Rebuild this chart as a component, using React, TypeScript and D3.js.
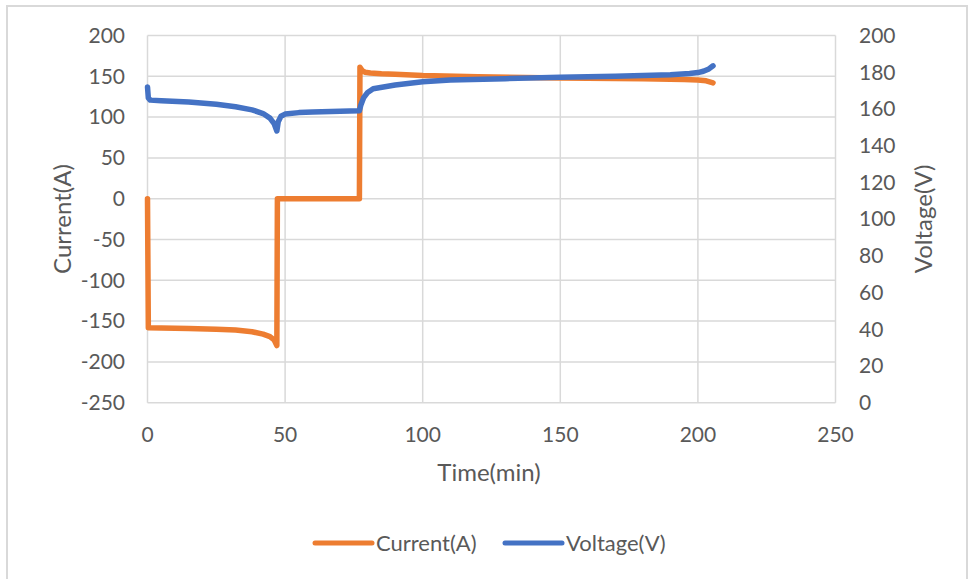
import React from "react";
import * as d3 from "d3";

const W = 973;
const H = 579;

const xTicks = [0, 50, 100, 150, 200, 250];
const leftTicks = [-250, -200, -150, -100, -50, 0, 50, 100, 150, 200];
const rightTicks = [0, 20, 40, 60, 80, 100, 120, 140, 160, 180, 200];

const currentTime = [0, 0.3, 5, 15, 25, 32, 38, 42, 44.5, 46, 47, 47.2, 50, 60, 70, 77, 77.2, 78, 79, 81, 85, 90, 100, 120, 150, 180, 195, 200, 203, 205.5];
const currentValues = [0, -158, -158.5, -159, -160, -161, -163, -166, -169, -173, -180, 0, 0, 0, 0, 0, 161, 157, 155, 154, 153, 152.5, 151, 149.5, 148, 147, 146, 145.5, 144.5, 142];

const voltageTime = [0, 0.3, 1, 5, 15, 25, 32, 38, 42, 44.5, 46, 47, 47.5, 48.5, 50, 55, 60, 70, 77, 77.5, 78.5, 80, 82, 90, 100, 110, 130, 150, 170, 190, 197, 200, 202, 204, 205.5];
const voltageValues = [172, 166, 164.8, 164.5, 163.8, 162.5, 161.2, 159.5, 157.5, 155, 152, 148, 153, 156, 157.2, 158, 158.3, 158.7, 159, 162, 166, 169, 171, 173, 174.8, 175.8, 176.5, 177.2, 177.8, 178.6, 179.3, 179.8, 180.5, 181.8, 183.5];

const seriesNames = ["Current(A)", "Voltage(V)"];
const colors = ["#ED7D31", "#4472C4"];

const FONT = "Lato, 'Open Sans', sans-serif";
const TXT = "#595959";
const GRID = "#D9D9D9";

export default function App() {
  const left = 147.5, right = 835.5, top = 35.5, bottom = 402.7;
  const x = d3.scaleLinear().domain([0, 250]).range([left, right]);
  const yL = d3.scaleLinear().domain([-250, 200]).range([bottom, top]);
  const yR = d3.scaleLinear().domain([0, 200]).range([bottom, top]);

  const curLine = d3.line<number>().x((_, i) => x(currentTime[i])).y((d) => yL(d));
  const volLine = d3.line<number>().x((_, i) => x(voltageTime[i])).y((d) => yR(d));

  return (
    <svg width={W} height={H} style={{ position: "absolute", left: 0, top: 0, background: "#fff" }} fontFamily={FONT}>
      <rect x={0} y={0} width={W} height={H} fill="#fff" />
      <rect x={7} y={6} width={960} height={590} fill="none" stroke={GRID} strokeWidth={2} />
      {leftTicks.map((t) => (
        <line key={"h" + t} x1={left} x2={right} y1={yL(t)} y2={yL(t)} stroke={GRID} strokeWidth={1.5} />
      ))}
      {xTicks.map((t) => (
        <line key={"v" + t} x1={x(t)} x2={x(t)} y1={top} y2={bottom} stroke={GRID} strokeWidth={1.5} />
      ))}
      {leftTicks.map((t) => (
        <text key={"lt" + t} x={125} y={yL(t)} dy="0.35em" textAnchor="end" fontSize={21} fill={TXT}>{t}</text>
      ))}
      {rightTicks.map((t) => (
        <text key={"rt" + t} x={859} y={yR(t)} dy="0.35em" textAnchor="start" fontSize={21} fill={TXT}>{t}</text>
      ))}
      {xTicks.map((t) => (
        <text key={"xt" + t} x={x(t)} y={442} textAnchor="middle" fontSize={21} fill={TXT}>{t}</text>
      ))}
      <text x={489} y={481} textAnchor="middle" fontSize={24} fill={TXT}>Time(min)</text>
      <text transform={`translate(71,219) rotate(-90)`} textAnchor="middle" fontSize={24} fill={TXT}>Current(A)</text>
      <text transform={`translate(932,219) rotate(-90)`} textAnchor="middle" fontSize={24} fill={TXT}>Voltage(V)</text>
      <path d={curLine(currentValues) || ""} fill="none" stroke={colors[0]} strokeWidth={5.5} strokeLinejoin="round" strokeLinecap="round" />
      <path d={volLine(voltageValues) || ""} fill="none" stroke={colors[1]} strokeWidth={5.5} strokeLinejoin="round" strokeLinecap="round" />
      {seriesNames.map((n, i) => {
        const lx = i === 0 ? 315 : 505;
        return (
          <g key={n}>
            <line x1={lx} x2={lx + 57} y1={543} y2={543} stroke={colors[i]} strokeWidth={5} strokeLinecap="round" />
            <text x={lx + 61} y={543} dy="0.35em" fontSize={22} fill={TXT}>{n}</text>
          </g>
        );
      })}
    </svg>
  );
}
